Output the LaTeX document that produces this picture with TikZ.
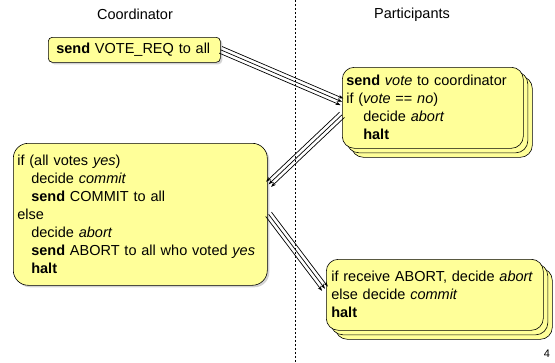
\documentclass[tikz,border=0pt]{standalone}
\usepackage{fontspec}
\setmainfont{Liberation Sans}
\usetikzlibrary{shadows,arrows.meta,calc}

\definecolor{notebg}{RGB}{255,255,153}
\newcommand{\ind}{\hspace*{14pt}}
% three parallel lines from #1 to #2
\newcommand{\msgarrow}[2]{%
  \foreach \s in {-3.6,0,3.6}
    \draw[msg] ($(#1)!\s pt!90:(#2)$) -- ($(#2)!\s pt!-90:(#1)$);}

\begin{document}
\begin{tikzpicture}[x=1pt,y=-1pt,
  every node/.style={font=\fontsize{14.5}{18}\selectfont},
  note/.style={draw=black, fill=notebg, line width=0.6pt, align=left,
    anchor=north west, inner xsep=4pt, inner ysep=0pt},
  single/.style={note, drop shadow={opacity=0.35, shadow xshift=2pt, shadow yshift=-2pt}},
  stacked/.style={note, double copy shadow={shadow xshift=4.5pt, shadow yshift=-4.5pt}},
  msg/.style={line width=0.7pt, -{Stealth[length=5pt,width=3.5pt]}}]
\useasboundingbox (0,0) rectangle (555,362);

% headings and divider
\node (coord) at (135,14) {Coordinator};
\node (part) at (412,15) {Participants};
\draw[dash pattern=on 2pt off 2pt, line width=0.5pt] (295,0) -- (295,362);

% coordinator
\node[single, rounded corners=4pt, text width=164pt, minimum height=25pt] (req) at (48,37)
  {\hspace*{4pt}\textbf{send} VOTE\_REQ to all};
\node[single, rounded corners=15pt, text width=246pt, minimum height=142pt] (decide) at (13,143)
  {if (all votes \textit{yes})\\
   \ind decide \textit{commit}\\
   \ind\textbf{send} COMMIT to all\\
   else\\
   \ind decide \textit{abort}\\
   \ind\textbf{send} ABORT to all who voted \textit{yes}\\
   \ind\textbf{halt}};

% participants
\node[stacked, rounded corners=12pt, text width=173pt, minimum height=81pt] (vote) at (342,67)
  {\textbf{send} \textit{vote} to coordinator\\
   if (\textit{vote} == \textit{no})\\
   \hspace*{17pt}decide \textit{abort}\\
   \hspace*{17pt}\textbf{halt}};
\node[stacked, rounded corners=12pt, text width=211pt, inner xsep=3pt, minimum height=71pt] (final) at (326,259)
  {\hspace*{2pt}if receive ABORT, decide \textit{abort}\\
   \hspace*{2pt}else decide \textit{commit}\\
   \hspace*{2pt}\textbf{halt}};

\node[font=\fontsize{11}{13}\selectfont] (pg) at (547,354) {4};

% messages
\coordinate (a1) at ($(vote.west)+(0,-6)$);
\coordinate (b2) at ($(vote.west)+(0,7)$);
\coordinate (a2) at ($(decide.east)+(1,-30)$);
\coordinate (b3) at ($(decide.east)+(1,0)$);
\coordinate (a3) at ($(final.west)+(-1,-6)$);
\msgarrow{req.east}{a1}
\msgarrow{b2}{a2}
\msgarrow{b3}{a3}
\end{tikzpicture}
\end{document}
